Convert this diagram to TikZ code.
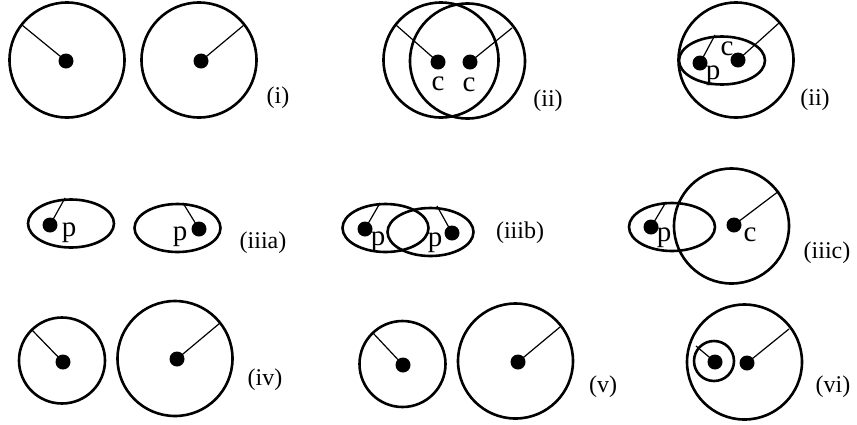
\documentclass[tikz,border=0pt]{standalone}
\usepackage{fontspec}
\setmainfont{Liberation Serif}
\usetikzlibrary{shapes.geometric}
\tikzset{
  ring/.style={circle,draw,line width=2.6pt,inner sep=0pt,minimum size=#1},
  oval/.style={ellipse,draw,line width=2.6pt,inner sep=0pt,minimum width=86pt,minimum height=48pt},
  dot/.style={circle,fill,inner sep=0pt,minimum size=15pt},
  rad/.style={line width=1.2pt},
  lbl/.style={inner sep=0pt,font=\fontsize{24}{28}\selectfont},
  ltr/.style={inner sep=0pt,font=\fontsize{29}{32}\selectfont},
}
\begin{document}
\begin{tikzpicture}[x=1pt,y=-1pt]
\useasboundingbox (0,0) rectangle (857,424);
% ---------- (i)
\node[ring=115pt] (c1) at (67,60) {};
\node[dot] (d1) at (66,61) {};
\coordinate (e1) at (22,25);
\draw[rad] (d1.center) -- (e1);
\node[ring=115pt] (c2) at (199,60) {};
\node[dot] (d2) at (201,61) {};
\coordinate (e2) at (244,25);
\draw[rad] (d2.center) -- (e2);
\node[lbl] (l1) at (278,98) {(i)};
% ---------- (ii) middle
\node[ring=115pt] (c3) at (441,60) {};
\node[dot] (d3) at (438,62) {};
\coordinate (e3) at (396,25);
\draw[rad] (d3.center) -- (e3);
\node[ring=115pt] (c4) at (467.5,61) {};
\node[dot] (d4) at (470,62) {};
\coordinate (e4) at (512,28);
\draw[rad] (d4.center) -- (e4);
\node[ltr] (t3) at (438,84) {c};
\node[ltr] (t4) at (469,85) {c};
\node[lbl] (l2) at (548,101) {(ii)};
% ---------- (ii) right
\node[ring=115pt] (c5) at (736,60) {};
\node[oval] (o5) at (722,60.5) {};
\node[dot] (d5) at (738,60) {};
\coordinate (e5) at (779,23);
\draw[rad] (d5.center) -- (e5);
\node[dot] (d6) at (700,63) {};
\coordinate (e6) at (715,35);
\draw[rad] (d6.center) -- (e6);
\node[ltr] (t6) at (713,76) {p};
\node[ltr] (t5) at (727,49) {c};
\node[lbl] (l3) at (815,100) {(ii)};
% ---------- (iiia)
\node[oval] (o7) at (71,223.5) {};
\node[dot] (d7) at (50,225) {};
\coordinate (e7) at (65,198);
\draw[rad] (d7.center) -- (e7);
\node[ltr] (t7) at (69,233) {p};
\node[oval] (o8) at (177.5,228) {};
\node[dot] (d8) at (199,229) {};
\coordinate (e8) at (183,203);
\draw[rad] (d8.center) -- (e8);
\node[ltr] (t8) at (180,237) {p};
\node[lbl] (l4) at (263,243) {(iiia)};
% ---------- (iiib)
\node[oval] (o9) at (385.5,228) {};
\node[dot] (d9) at (365,229) {};
\coordinate (e9) at (380,203);
\draw[rad] (d9.center) -- (e9);
\node[ltr] (t9) at (378,242) {p};
\node[oval] (o10) at (430.5,232) {};
\node[dot] (d10) at (452,233) {};
\coordinate (e10) at (437,206);
\draw[rad] (d10.center) -- (e10);
\node[ltr] (t10) at (435,243) {p};
\node[lbl] (l5) at (520,233) {(iiib)};
% ---------- (iiic)
\node[oval] (o11) at (672,227) {};
\node[dot] (d11) at (651,227) {};
\coordinate (e11) at (666,202);
\draw[rad] (d11.center) -- (e11);
\node[ltr] (t11) at (664,238) {p};
\node[ring=115pt] (c12) at (731.5,226) {};
\node[dot] (d12) at (734,225) {};
\coordinate (e12) at (779,191);
\draw[rad] (d12.center) -- (e12);
\node[ltr] (t12) at (750,235) {c};
\node[lbl] (l6) at (827,253) {(iiic)};
% ---------- (iv)
\node[ring=86pt] (c13) at (62,360.5) {};
\node[dot] (d13) at (63,362) {};
\coordinate (e13) at (32,330);
\draw[rad] (d13.center) -- (e13);
\node[ring=115pt] (c14) at (175,358.5) {};
\node[dot] (d14) at (177,359) {};
\coordinate (e14) at (220,323);
\draw[rad] (d14.center) -- (e14);
\node[lbl] (l7) at (265,380) {(iv)};
% ---------- (v)
\node[ring=86pt] (c15) at (402.5,364) {};
\node[dot] (d15) at (403,365) {};
\coordinate (e15) at (373,333);
\draw[rad] (d15.center) -- (e15);
\node[ring=115pt] (c16) at (515.5,361) {};
\node[dot] (d16) at (518,362) {};
\coordinate (e16) at (560,327);
\draw[rad] (d16.center) -- (e16);
\node[lbl] (l8) at (603,387) {(v)};
% ---------- (vi)
\node[ring=115pt] (c17) at (744.5,362) {};
\node[dot] (d17) at (747,363) {};
\coordinate (e17) at (789,329);
\draw[rad] (d17.center) -- (e17);
\node[ring=40pt] (c18) at (714,361) {};
\node[dot] (d18) at (715,362) {};
\coordinate (e18) at (696,346);
\draw[rad] (d18.center) -- (e18);
\node[lbl] (l9) at (833,387) {(vi)};
\end{tikzpicture}
\end{document}
